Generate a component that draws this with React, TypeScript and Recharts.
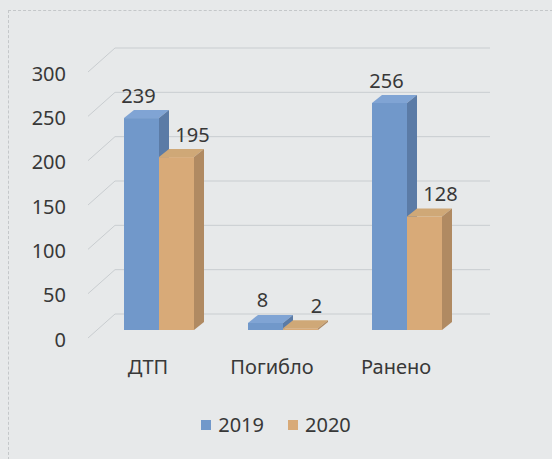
import React from "react";
import { BarChart, Bar, XAxis, YAxis, CartesianGrid, Legend, LabelList } from "recharts";

const categories = ["ДТП", "Погибло", "Ранено"];
const values2019 = [239, 8, 256];
const values2020 = [195, 2, 128];
const yTicks = [0, 50, 100, 150, 200, 250, 300];
const seriesNames = ["2019", "2020"];

const data = categories.map((name, i) => ({
    name,
    y2019: values2019[i],
    y2020: values2020[i],
}));

const FONT = "'Noto Sans', 'Open Sans', sans-serif";
const TEXT = "#383838";
const DEPTH_X = 10;
const DEPTH_Y = 8;

const colors = {
    y2019: { front: "#7198ca", top: "#80a4d4", side: "#5b7ba6" },
    y2020: { front: "#d8aa78", top: "#cfa877", side: "#b08a62" },
};

function make3DBar(c: { front: string; top: string; side: string }) {
    return (props: any) => {
        const { x, y, width, height } = props;
        const d = DEPTH_X;
        const e = DEPTH_Y;
        return (
            <g>
                <rect x={x} y={y} width={width} height={height} fill={c.front} />
                <polygon
                    points={`${x},${y} ${x + d},${y - e} ${x + width + d},${y - e} ${x + width},${y}`}
                    fill={c.top}
                />
                <polygon
                    points={`${x + width},${y} ${x + width + d},${y - e} ${x + width + d},${y + height - e} ${x + width},${y + height}`}
                    fill={c.side}
                />
            </g>
        );
    };
}

// grid drawn as a back wall plus a side wall, like the 3D original
const gridLine = (props: any) => {
    const { x1, x2, y1, index } = props;
    const fx = x1 - 9;
    const bx = x1 + 18;
    return (
        <g key={`g-${index}`}>
            <line x1={fx} y1={y1 + 8} x2={bx} y2={y1 - 16} stroke="#c9cdd0" strokeWidth={1} />
            <line x1={bx} y1={y1 - 16} x2={x2 + 21} y2={y1 - 16} stroke="#c9cdd0" strokeWidth={1} />
        </g>
    );
};

const YTick = (props: any) => {
    const { y, payload } = props;
    return (
        <text x={66} y={y + 9} textAnchor="end" dominantBaseline="central" fontSize={20} fontFamily={FONT} fill={TEXT}>
            {payload.value}
        </text>
    );
};

const XTick = (props: any) => {
    const { x, y, payload } = props;
    return (
        <text x={x - 11} y={y + 28} textAnchor="middle" dominantBaseline="central" fontSize={20} fontFamily={FONT} fill={TEXT}>
            {payload.value}
        </text>
    );
};

const makeLabel = (dx: number) => (props: any) => {
    const { x, y, width, value } = props;
    return (
        <text x={x + width / 2 + dx} y={y - 23} textAnchor="middle" dominantBaseline="central" fontSize={20} fontFamily={FONT} fill={TEXT}>
            {value}
        </text>
    );
};

const LegendContent = () => (
    <div style={{ display: "flex", justifyContent: "center", gap: 24, fontFamily: FONT, fontSize: 20, color: TEXT, paddingLeft: 0 }}>
        {seriesNames.map((s, i) => (
            <div key={s} style={{ display: "flex", alignItems: "center", gap: 7 }}>
                <span style={{ width: 10, height: 10, background: i === 0 ? colors.y2019.front : colors.y2020.front, display: "inline-block" }} />
                <span>{s}</span>
            </div>
        ))}
    </div>
);

export default function App() {
    return (
        <div style={{ position: "absolute", left: 0, top: 0, width: 552, height: 459, background: "#e7e9ea" }}>
            <div style={{ position: "absolute", left: 8, top: 10, width: 544, height: 449, borderTop: "1px dashed #c4c7c9", borderLeft: "1px dashed #c4c7c9" }} />
            <BarChart
                width={552}
                height={459}
                data={data}
                margin={{ top: 64, right: 83, left: 37, bottom: 62 }}
                barGap={0}
                barSize={35}
            >
                <CartesianGrid vertical={false} horizontal={gridLine} />
                <YAxis domain={[0, 300]} ticks={yTicks} width={60} axisLine={false} tickLine={false} tick={YTick} interval={0} />
                <XAxis dataKey="name" axisLine={false} tickLine={false} tick={XTick} height={40} />
                <Legend verticalAlign="bottom" content={LegendContent} wrapperStyle={{ bottom: 21, left: 0, width: 552 }} />
                <Bar dataKey="y2019" name="2019" shape={make3DBar(colors.y2019)} isAnimationActive={false}>
                    <LabelList dataKey="y2019" content={makeLabel(-3)} />
                </Bar>
                <Bar dataKey="y2020" name="2020" shape={make3DBar(colors.y2020)} isAnimationActive={false}>
                    <LabelList dataKey="y2020" content={makeLabel(16)} />
                </Bar>
            </BarChart>
        </div>
    );
}
